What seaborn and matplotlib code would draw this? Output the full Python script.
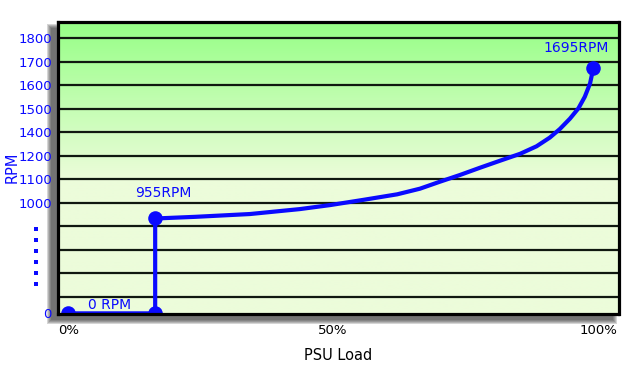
import numpy as np
import matplotlib
matplotlib.use("Agg")
import matplotlib.pyplot as plt
import seaborn as sns
from matplotlib.lines import Line2D
from matplotlib.patches import Rectangle

# ---------------- data ----------------
load_pct = [0, 16.4, 16.4, 23.9, 34.3, 43.7, 49.4, 55.6, 62.1, 66.4, 70.2,
            73.9, 77.7, 81.5, 85.3, 88.4, 90.9, 92.8, 94.7, 96.3, 97.5, 98.5, 99.1]
fan_rpm = [0, 0, 933, 940, 952, 973, 990, 1012, 1036, 1060, 1090,
           1118, 1149, 1179, 1217, 1281, 1355, 1414, 1458, 1502, 1551, 1608, 1672]
marker_idx = [0, 1, 2, 22]

ytick_values = [0, 1000, 1100, 1200, 1400, 1500, 1600, 1700, 1800]
ytick_labels = ["0", "1000", "1100", "1200", "1400", "1500", "1600", "1700", "1800"]
xtick_values = [0, 50, 100]
xtick_labels = ["0%", "50%", "100%"]
point_labels = ["0 RPM", "955RPM", "1695RPM"]

# the chart's irregular (broken) RPM axis: label value -> row position
axis_rpm_knots = [0, 900, 1000, 1100, 1200, 1400, 1500, 1600, 1700, 1800]
axis_row_knots = [5.29, 9, 10, 11, 12, 13, 14, 15, 16, 17]


def rpm_to_row(v):
    return np.interp(v, axis_rpm_knots, axis_row_knots)


BLUE = "#0a0aff"
W, H = 631, 379
fig = plt.figure(figsize=(W / 100, H / 100), dpi=100)

# axes box in pixels
L, R, T, B = 57.5, 618.5, 21.7, 314.0
ax = fig.add_axes([L / W, 1 - B / H, (R - L) / W, (B - T) / H])
ax.set_zorder(2)

xmin, xmax = -2.04, 103.87
ymin, ymax = 5.263, 17.71

# soft drop shadow to the lower-left of the plot box
sx0, sx1, sy0, sy1 = 51, 613, 28, 320
for e in [0, 1, 2, 3, 4]:
    fig.add_artist(Rectangle(((sx0 - e) / W, 1 - (sy1 + e) / H),
                             (sx1 - sx0 + 2 * e) / W, (sy1 - sy0 + 2 * e) / H,
                             transform=fig.transFigure, facecolor="#303030",
                             edgecolor="none", alpha=0.2, zorder=1))

# gradient background
green = np.array([0x96, 0xFF, 0x86]) / 255
pale = np.array([0xEC, 0xFC, 0xDA]) / 255
rows = np.linspace(ymax, ymin, 400)
t = np.clip((rows - 11) / (ymax - 11), 0, 1)[:, None]
grad = pale * (1 - t) + green * t
ax.imshow(grad[:, None, :], extent=[xmin, xmax, ymin, ymax], aspect="auto",
          zorder=0, interpolation="bilinear")

# horizontal grid lines
for r in range(6, 18):
    ax.axhline(r, color="#101810", lw=1.6, zorder=1)

# data line and markers
rows_data = rpm_to_row(fan_rpm)
sns.lineplot(x=load_pct, y=rows_data, sort=False, estimator=None, color=BLUE,
             lw=3.0, ax=ax, zorder=3)
sns.scatterplot(x=[load_pct[i] for i in marker_idx],
                y=[rows_data[i] for i in marker_idx],
                color=BLUE, s=110, edgecolor=BLUE, linewidth=0, ax=ax, zorder=4)

# point annotations
ax.text(7.7, 5.646, point_labels[0], color=BLUE, fontsize=10, ha="center", va="center", zorder=5)
ax.text(17.9, 10.414, point_labels[1], color=BLUE, fontsize=10, ha="center", va="center", zorder=5)
ax.text(95.9, 16.59, point_labels[2], color=BLUE, fontsize=10, ha="center", va="center", zorder=5)

ax.set_xlim(xmin, xmax)
ax.set_ylim(ymin, ymax)

ax.set_yticks(rpm_to_row(ytick_values))
ax.set_yticklabels(ytick_labels, color=BLUE, fontsize=9.5)
ax.set_xticks(xtick_values)
ax.set_xticklabels(xtick_labels, color="black", fontsize=9.5)
ax.tick_params(axis="y", length=0, pad=4)
ax.tick_params(axis="x", length=0, pad=7)

for s in ax.spines.values():
    s.set_color("black")
    s.set_linewidth(2.3)
    s.set_zorder(6)

ax.set_ylabel("RPM", color=BLUE, fontsize=10.5)
ax.yaxis.set_label_coords((11.7 - L) / (R - L), (B - 167) / (B - T))
ax.yaxis.label.set_va("center")
ax.set_xlabel("PSU Load", color="black", fontsize=10.5)
ax.xaxis.set_label_coords((338 - L) / (R - L), (B - 356) / (B - T))
ax.xaxis.label.set_va("center")

# dotted "broken axis" marks
dot_y = [229, 240, 251, 262, 273, 284]
fig.add_artist(Line2D([36 / W] * len(dot_y), [1 - y / H for y in dot_y],
                      transform=fig.transFigure, linestyle="none", marker="s",
                      markersize=2.6, color=BLUE, markeredgewidth=0, zorder=3))

fig.savefig("out.png", dpi=100)
